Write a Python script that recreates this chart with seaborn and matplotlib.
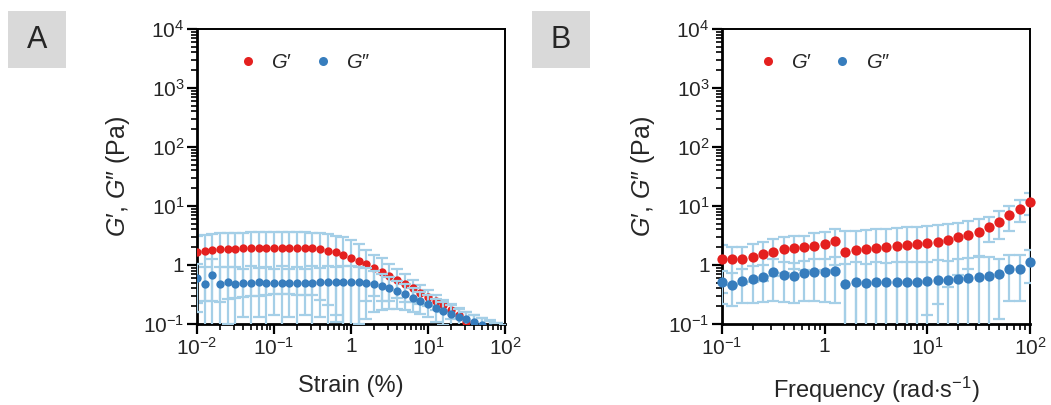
import numpy as np
import pandas as pd
import matplotlib
matplotlib.use("Agg")
import matplotlib.pyplot as plt
import seaborn as sns
from matplotlib.ticker import FixedLocator, LogLocator, FuncFormatter, NullFormatter
from matplotlib.lines import Line2D
from matplotlib.patches import Rectangle

sns.set_style("ticks")
plt.rcParams["font.family"] = ["Liberation Sans", "DejaVu Sans"]
plt.rcParams["mathtext.fontset"] = "custom"
plt.rcParams["mathtext.rm"] = "Liberation Sans"
plt.rcParams["mathtext.it"] = "Liberation Sans:italic"
plt.rcParams["mathtext.bf"] = "Liberation Sans:bold"

# ---- Panel A: strain sweep ----
strain = [0.01, 0.0126, 0.0158, 0.02, 0.0251, 0.0316, 0.0398, 0.0501, 0.0631, 0.0794,
          0.1, 0.126, 0.158, 0.2, 0.251, 0.316, 0.398, 0.501, 0.631, 0.794,
          1.0, 1.26, 1.58, 2.0, 2.51, 3.16, 3.98, 5.01, 6.31, 7.94,
          10, 12.6, 15.8, 20, 25.1, 31.6, 39.8, 50.1, 63.1, 79.4, 100]
gp_strain = [1.68, 1.75, 1.80, 1.84, 1.87, 1.90, 1.92, 1.94, 1.95, 1.96,
             1.97, 1.97, 1.97, 1.96, 1.95, 1.93, 1.86, 1.76, 1.64, 1.50,
             1.32, 1.16, 1.03, 0.90, 0.77, 0.65, 0.56, 0.47, 0.40, 0.34,
             0.29, 0.245, 0.21, 0.17, 0.14, 0.11, 0.088, 0.072, 0.06, 0.05, 0.042]
gp_strain_sd = [1.45, 1.50, 1.55, 1.60, 1.60, 1.62, 1.63, 1.64, 1.65, 1.65,
                1.65, 1.65, 1.65, 1.65, 1.64, 1.62, 1.60, 1.55, 1.50, 1.50,
                1.30, 1.10, 0.78, 0.60, 0.52, 0.40, 0.28, 0.23, 0.16, 0.12,
                0.09, 0.07, 0.05, 0.05, 0.045, 0.05, 0.052, 0.053, 0.054, 0.054, 0.05]
gpp_strain = [0.61, 0.48, 0.68, 0.47, 0.52, 0.48, 0.49, 0.50, 0.51, 0.49,
              0.49, 0.50, 0.50, 0.49, 0.50, 0.50, 0.51, 0.51, 0.51, 0.52,
              0.52, 0.52, 0.50, 0.48, 0.44, 0.40, 0.36, 0.32, 0.28, 0.25,
              0.22, 0.19, 0.166, 0.148, 0.133, 0.12, 0.11, 0.095, 0.085, 0.075, 0.066]
gpp_strain_sd = [0.45, 0.45, 0.60, 0.45, 0.42, 0.44, 0.36, 0.46, 0.38, 0.45,
                 0.35, 0.46, 0.37, 0.45, 0.36, 0.46, 0.38, 0.47, 0.40, 0.45,
                 0.44, 0.42, 0.38, 0.32, 0.27, 0.22, 0.18, 0.15, 0.12, 0.10,
                 0.09, 0.08, 0.07, 0.06, 0.05, 0.04, 0.03, 0.03, 0.03, 0.03, 0.03]

# ---- Panel B: frequency sweep ----
freq = [0.1, 0.126, 0.158, 0.2, 0.251, 0.316, 0.398, 0.501, 0.631, 0.794,
        1.0, 1.26, 1.58, 2.0, 2.51, 3.16, 3.98, 5.01, 6.31, 7.94,
        10, 12.6, 15.8, 20, 25.1, 31.6, 39.8, 50.1, 63.1, 79.4, 100]
gp_freq = [1.26, 1.25, 1.26, 1.38, 1.52, 1.68, 1.84, 1.97, 1.99, 2.13,
           2.24, 2.52, 1.68, 1.82, 1.87, 1.92, 2.02, 2.10, 2.15, 2.24,
           2.36, 2.49, 2.69, 2.94, 3.22, 3.67, 4.41, 5.42, 6.95, 8.9, 11.7]
gp_freq_sd = [0.92, 0.79, 0.78, 0.86, 0.98, 1.04, 1.11, 1.12, 1.17, 1.34,
              1.43, 1.51, 2.09, 2.00, 2.05, 2.10, 2.11, 2.14, 2.20, 2.22,
              2.22, 2.27, 2.26, 2.27, 2.35, 2.27, 2.00, 2.70, 3.20, 3.50, 4.70]
gpp_freq = [0.51, 0.46, 0.54, 0.59, 0.62, 0.75, 0.69, 0.65, 0.72, 0.75,
            0.76, 0.79, 0.47, 0.52, 0.49, 0.51, 0.51, 0.51, 0.52, 0.52,
            0.54, 0.56, 0.56, 0.57, 0.61, 0.62, 0.64, 0.70, 0.85, 0.87, 1.14]
gpp_freq_sd = [0.29, 0.26, 0.31, 0.36, 0.38, 0.50, 0.45, 0.42, 0.47, 0.50,
               0.52, 0.56, 0.55, 0.60, 0.55, 0.60, 0.58, 0.62, 0.60, 0.62,
               0.60, 0.65, 0.62, 0.68, 0.70, 0.75, 0.72, 0.58, 0.60, 0.62, 0.65]

RED = "#e4201f"
BLUE = "#377dbd"
ERR = "#a5cfe7"

G1 = "$G$\u2032"
G2 = "$G$\u2033"

W, H = 1051, 405
fig = plt.figure(figsize=(W / 100, H / 100), dpi=100)


def log_label(v, pos):
    e = int(round(np.log10(v)))
    if e == 0:
        return "1"
    return r"$\mathregular{10^{%d}}$" % e


def errbar(ax, x, y, sd, z):
    y = np.asarray(y)
    sd = np.asarray(sd)
    lower = np.minimum(sd, y * 0.999999)
    ax.errorbar(x, y, yerr=[lower, sd], fmt="none", ecolor=ERR, elinewidth=1.6,
                capsize=4.6, capthick=1.6, zorder=z)


def panel(rect, x, gp, gp_sd, gpp, gpp_sd, xlim, xticks, xlabel, msize, clip, leg_x):
    ax = fig.add_axes(rect)
    ax.set_xscale("log")
    ax.set_yscale("log")
    df = pd.DataFrame({"x": x, "gp": gp, "gpp": gpp})

    errbar(ax, x, gp, gp_sd, 2)
    sns.scatterplot(data=df, x="x", y="gp", color=RED, s=msize ** 2, linewidth=0,
                    ax=ax, zorder=3, clip_on=clip)
    errbar(ax, x, gpp, gpp_sd, 4)
    sns.scatterplot(data=df, x="x", y="gpp", color=BLUE, s=msize ** 2, linewidth=0,
                    ax=ax, zorder=5, clip_on=clip)

    ax.set_xlim(*xlim)
    ax.set_ylim(0.1, 1e4)
    ax.xaxis.set_major_locator(FixedLocator(xticks))
    ax.yaxis.set_major_locator(FixedLocator([0.1, 1, 10, 100, 1000, 10000]))
    for a in (ax.xaxis, ax.yaxis):
        a.set_minor_locator(LogLocator(base=10, subs=np.arange(2, 10), numticks=20))
        a.set_major_formatter(FuncFormatter(log_label))
        a.set_minor_formatter(NullFormatter())

    ax.tick_params(which="major", direction="out", length=7, width=1.6,
                   labelsize=15, pad=2, color="black")
    ax.tick_params(which="minor", direction="out", length=4, width=1.2, color="black")
    ax.tick_params(top=False, right=False, which="both")

    for side in ("left", "bottom"):
        ax.spines[side].set_linewidth(2.0)
    for side in ("top", "right"):
        ax.spines[side].set_linewidth(1.4)
    for sp in ax.spines.values():
        sp.set_color("black")
        sp.set_visible(True)

    ax.set_xlabel(xlabel, fontsize=17)
    ax.set_ylabel(G1 + ", " + G2 + " (Pa)", fontsize=18)
    ax.xaxis.set_label_coords(0.5, -0.172)
    ax.yaxis.set_label_coords(-0.21, 0.5)

    handles = [Line2D([], [], marker="o", ls="none", color=RED, markersize=6.5, markeredgewidth=0),
               Line2D([], [], marker="o", ls="none", color=BLUE, markersize=6.5, markeredgewidth=0)]
    ax.legend(handles, [G1, G2], ncol=2, frameon=False, fontsize=14.5,
              loc="center left", bbox_to_anchor=(leg_x, 0.885), borderpad=0,
              borderaxespad=0, handlelength=0.8, handletextpad=0.75, columnspacing=1.1)
    return ax


def tag(letter, x0):
    fig.patches.append(Rectangle((x0 / W, 1 - 68 / H), 58 / W, 57 / H,
                                 transform=fig.transFigure, facecolor="#d9d9d9",
                                 edgecolor="none", zorder=0))
    fig.text((x0 + 29) / W, 1 - 40 / H, letter, ha="center", va="center", fontsize=22)


axA = panel([197 / W, 81 / H, 308 / W, 295 / H], strain, gp_strain, gp_strain_sd,
            gpp_strain, gpp_strain_sd, (0.01, 100), [0.01, 0.1, 1, 10, 100],
            "Strain (%)", 6.0, True, 0.14)
axB = panel([722 / W, 81 / H, 308 / W, 295 / H], freq, gp_freq, gp_freq_sd,
            gpp_freq, gpp_freq_sd, (0.1, 100), [0.1, 1, 10, 100],
            r"Frequency (rad$\cdot$s$^{-1}$)", 7.4, False, 0.123)

tag("A", 8)
tag("B", 532)

fig.savefig("out.png", dpi=100)
